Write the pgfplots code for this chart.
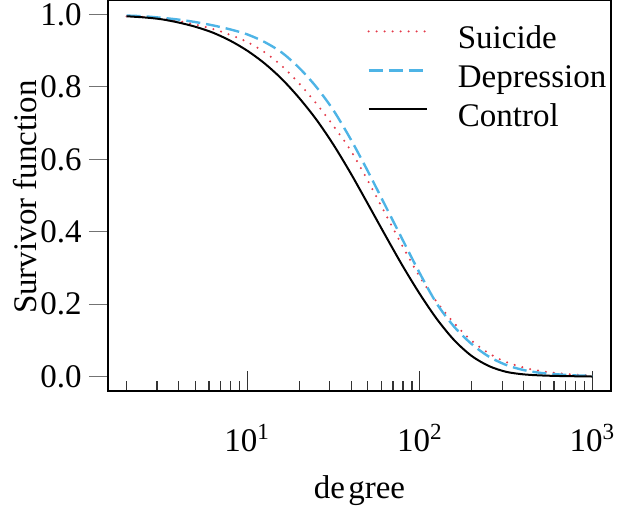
\documentclass[border=0pt]{standalone}
\usepackage{fontspec}
\setmainfont{Liberation Serif}
\usepackage{pgfplots}
\usepackage{pgfplotstable}
\pgfplotsset{compat=1.18}
\definecolor{sred}{RGB}{228,58,74}
\definecolor{sblue}{RGB}{78,180,230}
\pgfplotstableread{
x      sui     dep    con
2      0.995   0.997  0.995
2.512  0.993   0.995  0.992
3.162  0.989   0.991  0.987
3.981  0.982   0.986  0.978
5.012  0.972   0.979  0.966
6.310  0.960   0.970  0.950
7.943  0.944   0.959  0.928
10     0.924   0.945  0.900
12.59  0.896   0.924  0.865
15.85  0.858   0.895  0.822
19.95  0.810   0.853  0.770
25.12  0.754   0.800  0.710
31.62  0.692   0.735  0.640
39.81  0.624   0.655  0.561
50.12  0.540   0.566  0.476
63.10  0.450   0.472  0.390
79.43  0.360   0.378  0.306
100    0.275   0.285  0.228
125.9  0.205   0.200  0.158
158.5  0.147   0.137  0.100
199.5  0.099   0.090  0.057
251.2  0.064   0.055  0.029
316.2  0.040   0.032  0.013
398.1  0.025   0.018  0.006
501.2  0.015   0.010  0.003
631.0  0.009   0.006  0.0015
794.3  0.005   0.003  0.0007
1000   0.003   0.002  0.0
}\survdata
\begin{document}
\fontsize{16.5}{19.8}\selectfont
\begin{tikzpicture}
\begin{axis}[
  scale only axis, width=251.5pt, height=195.5pt,
  xmode=log, xmin=1.56, xmax=1282, ymin=-0.04, ymax=1.04,
  axis line style={line width=0.7pt},
  tick align=inside,
  xtick pos=bottom, ytick pos=left,
  xtick={10,100,1000},
  xticklabels={10\textsuperscript{1},10\textsuperscript{2},10\textsuperscript{3}},
  minor xtick={2,3,4,5,6,7,8,9,20,30,40,50,60,70,80,90,200,300,400,500,600,700,800,900},
  major tick length=10pt, minor tick length=5pt,
  ytick={0,0.2,0.4,0.6,0.8,1},
  yticklabels={0.0,0.2,0.4,0.6,0.8,1.0},
  xtick style={black!80, line width=0.6pt},
  ytick style={black!55, line width=0.6pt, xshift=-9.5pt},
  xticklabel style={inner sep=0pt, anchor=base, yshift=-30.5pt},
  yticklabel style={inner sep=0pt, anchor=east, xshift=-13pt},
  xlabel={de\hspace{0.1em}gree},
  xlabel style={at={(axis description cs:0.5,0)}, anchor=base, yshift=-54pt, inner sep=0pt},
  ylabel={Survivor function},
  ylabel style={at={(axis description cs:-0.165,0.496)}, anchor=center, inner sep=0pt},
  legend style={draw=none, fill=none, at={(axis description cs:0.515,0.9386)}, anchor=north west,
    inner sep=0pt, row sep=3.5pt, nodes={inner sep=0pt, text height=12pt, text depth=4pt}},
  legend cell align=left,
  legend image code/.code={\draw[#1] (0pt,4.5pt)--(29pt,4.5pt); \path (0pt,0pt) (44pt,0pt);},
]
\addplot[sred, line width=1.15pt, line cap=round, dash pattern=on 0pt off 4pt, smooth] table[x=x, y=sui] {\survdata};
\addlegendentry{Suicide}
\addplot[sblue, line width=1.2pt, dash pattern=on 7pt off 3pt, smooth] table[x=x, y=dep] {\survdata};
\addlegendentry{Depression}
\addplot[black, line width=1pt, smooth] table[x=x, y=con] {\survdata};
\addlegendentry{Control}
\end{axis}
\pgfresetboundingbox
\path (-54pt,-58.5pt) rectangle (255pt,195.5pt);
\end{tikzpicture}
\end{document}
